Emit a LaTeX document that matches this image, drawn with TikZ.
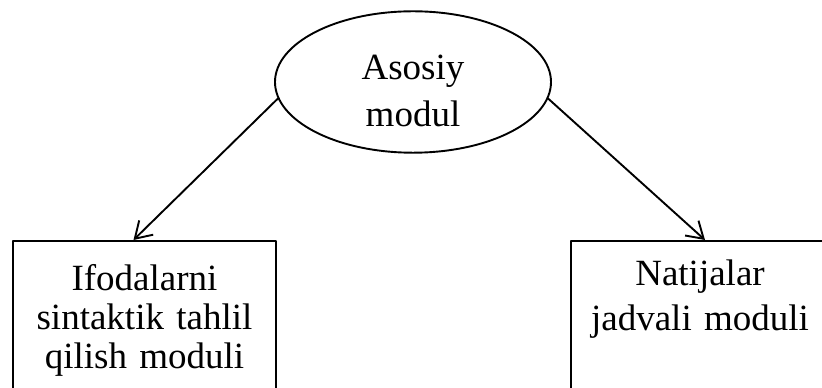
\documentclass[tikz,border=0pt]{standalone}
\usepackage{fontspec}
\setmainfont{Liberation Serif}
\usetikzlibrary{shapes.geometric,arrows.meta}
\begin{document}
\begin{tikzpicture}[x=1pt,y=1pt,line join=round,line cap=round,>={Straight Barb[length=16pt,width=20pt]},line width=1.9pt]
	\tikzset{every node/.style={font=\fontsize{37}{46}\selectfont,align=center},
		oval/.style={draw,ellipse,minimum width=276pt,minimum height=138pt,inner sep=0pt},
		modbox/.style={draw,rectangle,anchor=north,inner xsep=0pt,inner ysep=0pt,text depth=200pt}}
	\useasboundingbox (0,0) rectangle (822,388);
	\clip (0,0) rectangle (822,388);
	\node[oval,text height=95pt,text depth=5pt,font=\fontsize{37}{47}\selectfont] (asosiy) at (413,306) {Asosiy\\modul};
	\node[modbox,minimum width=263pt,text width=250pt,text height=50pt,
		font=\fontsize{37}{39}\selectfont] (ifoda) at (144.5,148) {Ifodalarni\\sintaktik tahlil\\qilish moduli};
	\node[modbox,minimum width=258pt,text width=250pt,text height=45pt,
		font=\fontsize{37}{45}\selectfont] (natija) at (700,148) {Natijalar\\jadvali moduli};
	\draw[->] (asosiy.187) -- ([xshift=-11pt]ifoda.north);
	\draw[->] (asosiy.-7) -- ([xshift=5pt]natija.north);
\end{tikzpicture}
\end{document}
